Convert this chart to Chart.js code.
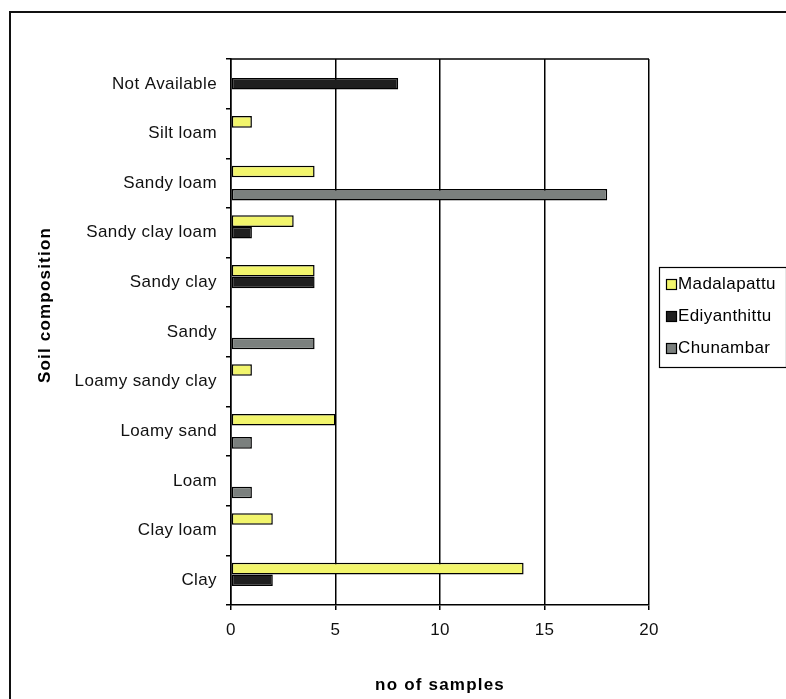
<!DOCTYPE html>
<html>
<head>
<meta charset="utf-8">
<script src="https://cdn.jsdelivr.net/npm/chart.js@4.4.1/dist/chart.umd.min.js"></script>
<style>
  body { margin: 0; background: #fff; }
  #wrap { width: 786px; height: 699px; position: relative; }
</style>
</head>
<body>
<div id="wrap"><canvas id="soilChart"></canvas></div>
<script>
// values (null = no bar)
const categories = ['Not Available', 'Silt loam', 'Sandy loam', 'Sandy clay loam', 'Sandy clay', 'Sandy',
    'Loamy sandy clay', 'Loamy sand', 'Loam', 'Clay loam', 'Clay'];
const seriesNames = ['Madalapattu', 'Ediyanthittu', 'Chunambar'];
const madalapattu = [null, 1, 4, 3, 4, null, 1, 5, null, 2, 14];
const ediyanthittu = [8, null, null, 1, 4, null, null, null, null, null, 2];
const chunambar = [null, null, 18, null, null, 4, null, 1, 1, null, null];
const xTicks = [0, 5, 10, 15, 20];

const colors = ['#f2f56c', '#1f1f1f', '#7b807e'];
const fontFamily = "'Liberation Sans', Arial, sans-serif";

// frame, legend and axis titles
const extras = {
    id: 'extras',
    beforeUpdate(chart) {
        chart.ctx.letterSpacing = '0.4px';
    },
    beforeDraw(chart) {
        chart.ctx.letterSpacing = '0.4px';
    },
    afterDraw(chart) {
        const ctx = chart.ctx;
        const area = chart.chartArea;
        ctx.save();

        // outer frame
        ctx.strokeStyle = '#111';
        ctx.lineWidth = 2;
        ctx.beginPath();
        ctx.moveTo(10, 700);
        ctx.lineTo(10, 12);
        ctx.lineTo(790, 12);
        ctx.stroke();

        // top edge of plot
        ctx.lineWidth = 1.5;
        ctx.strokeStyle = '#000';
        ctx.beginPath();
        ctx.moveTo(area.left, area.top);
        ctx.lineTo(area.right, area.top);
        ctx.stroke();

        // legend
        ctx.lineWidth = 1.2;
        ctx.strokeRect(659.5, 267.5, 127, 100);
        ctx.font = '17px ' + fontFamily;
        ctx.textBaseline = 'middle';
        ctx.textAlign = 'left';
        ctx.letterSpacing = '0.4px';
        chart.data.datasets.forEach((ds, i) => {
            const y = 284 + i * 32;
            ctx.fillStyle = ds.backgroundColor;
            ctx.fillRect(666, y - 5, 10, 10);
            ctx.strokeRect(666.5, y - 4.5, 10, 10);
            ctx.fillStyle = '#000';
            ctx.fillText(ds.label, 678, y);
        });

        // axis titles
        ctx.font = 'bold 17px ' + fontFamily;
        ctx.letterSpacing = '1.2px';
        ctx.textAlign = 'center';
        ctx.fillText('no of samples', (area.left + area.right) / 2, 685);
        ctx.translate(45, 305);
        ctx.rotate(-Math.PI / 2);
        ctx.fillText('Soil composition', 0, 0);
        ctx.restore();
    }
};

const ctx = document.getElementById('soilChart').getContext('2d');
const soilChart = new Chart(ctx, {
    type: 'bar',
    data: {
        labels: categories,
        datasets: [madalapattu, ediyanthittu, chunambar].map((values, i) => ({
            label: seriesNames[i],
            data: values,
            backgroundColor: colors[i],
            borderColor: '#000',
            borderWidth: 1.5,
            borderSkipped: false,
            categoryPercentage: 0.7,
            barPercentage: 1.0
        }))
    },
    options: {
        indexAxis: 'y',
        responsive: true,
        maintainAspectRatio: false,
        animation: false,
        layout: { padding: { top: 59, right: 137, bottom: 0, left: 0 } },
        plugins: {
            legend: { display: false },
            tooltip: { enabled: false }
        },
        scales: {
            x: {
                min: 0,
                max: 20,
                afterBuildTicks: scale => { scale.ticks = xTicks.map(v => ({ value: v })); },
                afterFit: scale => { scale.height = 94; },
                grid: { color: '#000', tickColor: '#000', tickLength: 5, lineWidth: 1.5 },
                border: { color: '#000', width: 1.5 },
                ticks: { color: '#111', padding: 10, font: { size: 17, family: fontFamily } }
            },
            y: {
                afterFit: scale => { scale.width = 231; },
                grid: { drawOnChartArea: false, tickColor: '#000', tickLength: 5, offset: true, lineWidth: 1.5 },
                border: { color: '#000', width: 1.5 },
                ticks: { color: '#111', padding: 9, font: { size: 17, family: fontFamily } }
            }
        }
    },
    plugins: [extras]
});
</script>
</body>
</html>
